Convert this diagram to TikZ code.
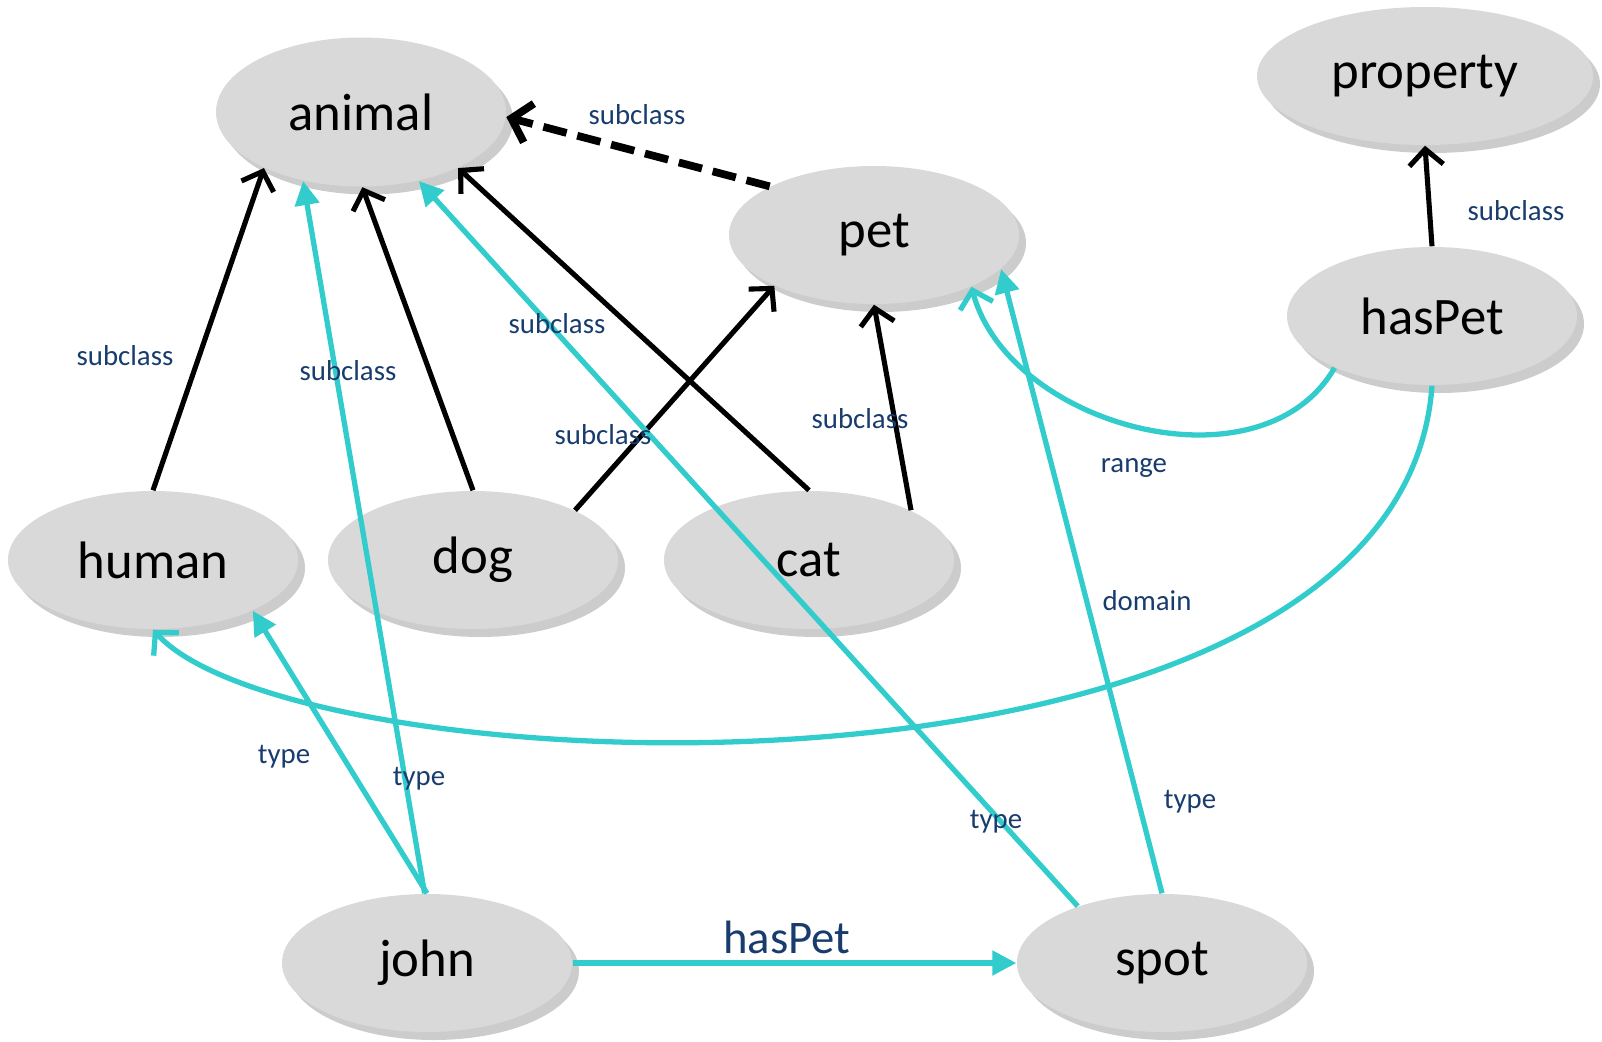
\documentclass[tikz,border=0pt]{standalone}
\usepackage{fontspec}
\setmainfont{Carlito}
\usepackage{tikz}
\usetikzlibrary{arrows.meta,shapes.geometric,shadows}
\definecolor{nodegray}{RGB}{217,217,217}
\definecolor{edgecyan}{RGB}{51,204,204}
\definecolor{lblblue}{RGB}{24,60,110}

\begin{document}
\begin{tikzpicture}[
   cls/.style={ellipse, fill=nodegray, minimum width=2.9cm, minimum height=1.38cm, inner sep=0pt,
      drop shadow={shadow xshift=0.7mm, shadow yshift=-0.8mm, fill=black, opacity=0.2},
      font=\fontsize{15}{18}\selectfont},
   lbl/.style={text=lblblue, font=\fontsize{8.2}{10}\selectfont, inner sep=1pt},
   sub/.style={black, line width=1.45pt, -{Straight Barb[length=1.6mm,width=3.4mm]}},
   typ/.style={edgecyan, line width=1.5pt, -{Triangle[length=2.4mm,width=2.4mm]}},
   rel/.style={edgecyan, line width=1.5pt, -{Straight Barb[length=1.6mm,width=3.4mm]}}]
   \useasboundingbox (0,0) rectangle (16.02,10.41);
   % classes and properties
   \node[cls, minimum height=1.49cm] (animal) at (3.61,9.29) {animal};
   \node[cls, minimum width=3.36cm] (property) at (14.25,9.65) {property};
   \node[cls] (pet) at (8.74,8.06) {pet};
   \node[cls] (haspet) at (14.32,7.25) {hasPet};
   \node[cls] (human) at (1.53,4.81) {human};
   \node[cls] (dog) at (4.73,4.81) {dog};
   \node[cls] (cat) at (8.09,4.81) {cat};
   % instances
   \node[cls] (john) at (4.27,0.78) {john};
   \node[cls] (spot) at (11.62,0.78) {spot};
   % subclass links
   \draw[sub] (human.90) -- (animal.210);
   \draw[sub] (dog.90) -- (animal.271);
   \draw[sub] (cat.90) -- (animal.330);
   \draw[sub] (dog.26) -- (pet.207);
   \draw[sub] (cat.26) -- (pet.270);
   \draw[sub, line width=2.2pt, dash pattern=on 2.4mm off 1.1mm, -{Straight Barb[length=1.8mm,width=4mm]}] (pet.155) -- (animal.358);
   \draw[sub] (haspet.90) -- (property.270);
   % type links
   \draw[typ] (john.90) -- (human.333);
   \draw[typ] (john.92) -- (animal.230);
   \draw[typ] (spot.146) -- (animal.310);
   \draw[typ] (spot.90) -- (pet.345);
   \draw[typ] (john.0) -- (spot.180);
   % range and domain
   \draw[rel] (haspet.208) to[out=240,in=285] (pet.332);
   \draw[rel] (haspet.270) .. controls (14.0,2.1) and (3.0,2.5) .. (human.270);
   % labels
   \node[lbl] (lpet) at (6.37,9.26) {subclass};
   \node[lbl] (lhuman) at (1.25,6.85) {subclass};
   \node[lbl] (ldog) at (3.48,6.70) {subclass};
   \node[lbl] (lcat) at (5.57,7.17) {subclass};
   \node[lbl] (ldogpet) at (6.03,6.06) {subclass};
   \node[lbl] (lcatpet) at (8.60,6.22) {subclass};
   \node[lbl] (lprop) at (15.16,8.30) {subclass};
   \node[lbl] (lrange) at (11.34,5.73) {range};
   \node[lbl] (ldomain) at (11.47,4.40) {domain};
   \node[lbl] (ljohnh) at (2.84,2.84) {type};
   \node[lbl] (ljohna) at (4.19,2.62) {type};
   \node[lbl] (lspota) at (9.96,2.19) {type};
   \node[lbl] (lspotp) at (11.90,2.39) {type};
   \node[lbl, font=\fontsize{13.3}{16}\selectfont] (lhaspet) at (7.87,1.04) {hasPet};
\end{tikzpicture}
\end{document}
